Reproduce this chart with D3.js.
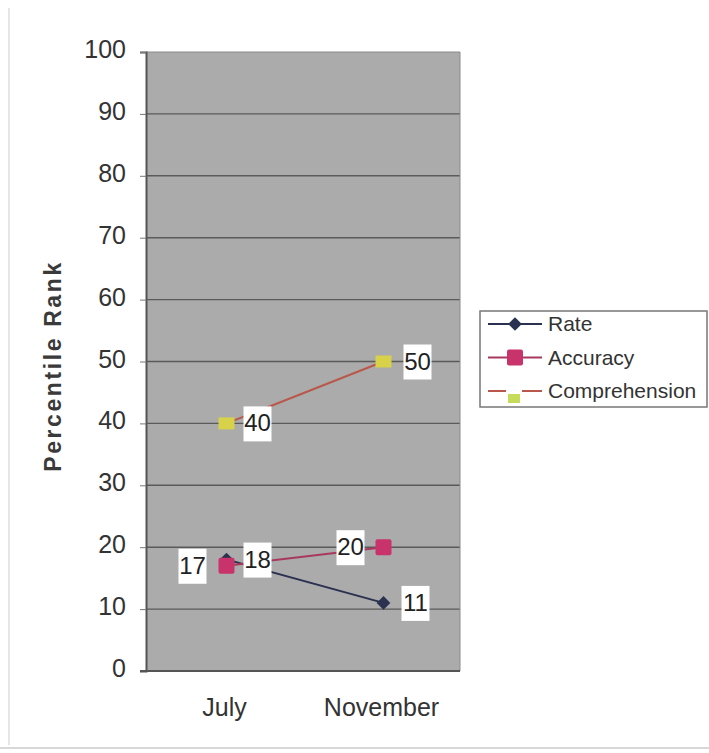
<!DOCTYPE html>
<html><head><meta charset="utf-8">
<script src="https://cdn.jsdelivr.net/npm/d3@7"></script>
<style>body{margin:0;background:#fff;} text{font-family:"Liberation Sans",Arial,sans-serif;}</style>
</head><body>
<svg id="c" width="709" height="753"></svg>
<script>
const categories = ["July", "November"];
const rate = [18, 11];
const accuracy = [17, 20];
const comprehension = [40, 50];
const yTicks = [0,10,20,30,40,50,60,70,80,90,100];
const seriesNames = ["Rate", "Accuracy", "Comprehension"];

const svg = d3.select("#c");
const L = 146, R = 460, T = 52, B = 671;
const x = d3.scaleBand().domain(categories).range([L, R]);
const y = d3.scaleLinear().domain([0,100]).range([B, T]);
const cx = c => x(c) + x.bandwidth()/2 + 2;

// outer frame remnants
svg.append("line").attr("x1",9).attr("x2",9).attr("y1",8).attr("y2",745).attr("stroke","#e6e6e6").attr("stroke-width",2);
svg.append("line").attr("x1",0).attr("x2",709).attr("y1",748).attr("y2",748).attr("stroke","#d8d8d8").attr("stroke-width",2);

// plot background
svg.append("rect").attr("x",L).attr("y",T).attr("width",R-L).attr("height",B-T).attr("fill","#ababab");

// gridlines
svg.append("g").selectAll("line").data(yTicks.filter(d=>d>0 && d<100)).join("line")
  .attr("x1",L).attr("x2",R).attr("y1",d=>y(d)).attr("y2",d=>y(d))
  .attr("stroke","#5a5a5a").attr("stroke-width",1.4);
svg.append("line").attr("x1",L).attr("x2",R).attr("y1",T).attr("y2",T).attr("stroke","#8a8a8a").attr("stroke-width",1);
svg.append("line").attr("x1",R).attr("x2",R).attr("y1",T).attr("y2",B).attr("stroke","#8a8a8a").attr("stroke-width",1);

// axes
const yAxis = d3.axisLeft(y).tickValues(yTicks).tickSize(6).tickPadding(14);
const gy = svg.append("g").attr("transform",`translate(${L},0)`).call(yAxis);
gy.select(".domain").attr("stroke","#555").attr("stroke-width",2);
gy.selectAll(".tick line").attr("stroke","#777");
gy.selectAll("text").attr("font-size",25).attr("fill","#333").attr("dy","0.22em").attr("font-family","Liberation Sans, Arial, sans-serif");

const xAxis = d3.axisBottom(x).tickSize(0).tickPadding(27);
const gx = svg.append("g").attr("transform",`translate(0,${B})`).call(xAxis);
gx.select(".domain").attr("stroke","#555").attr("stroke-width",2).attr("d",`M${L-6},0H${R}`);
gx.selectAll("text").attr("font-size",25).attr("fill","#333").attr("font-family","Liberation Sans, Arial, sans-serif");

// y label
svg.append("text").attr("transform","translate(61,366) rotate(-90)").attr("text-anchor","middle")
  .attr("font-size",23).attr("font-weight","bold").attr("fill","#3a3a3a").attr("letter-spacing",2.6)
  .text("Percentile Rank");

const series = [
  {name:seriesNames[0], values:rate, line:"#2b3150", marker:"diamond", mfill:"#2b3150"},
  {name:seriesNames[1], values:accuracy, line:"#a8385e", marker:"square", mfill:"#c8336b"},
  {name:seriesNames[2], values:comprehension, line:"#b9584a", marker:"tri", mfill:"#d8d24a"}
];
const lineGen = d3.line().x(d=>cx(d.c)).y(d=>y(d.v));

function drawMarker(g, type, px, py, fill){
  if(type==="diamond"){
    g.append("path").attr("d",d3.symbol(d3.symbolDiamond2, 120)()).attr("transform",`translate(${px},${py})`).attr("fill",fill);
  } else if(type==="square"){
    g.append("rect").attr("x",px-8).attr("y",py-8).attr("width",16).attr("height",16).attr("rx",2).attr("fill",fill);
  } else {
    g.append("rect").attr("x",px-8).attr("y",py-6).attr("width",16).attr("height",12).attr("fill",fill);
  }
}

const gl = svg.append("g");
series.forEach(s=>{
  const pts = categories.map((c,i)=>({c, v:s.values[i]}));
  gl.append("path").datum(pts).attr("d",lineGen).attr("fill","none").attr("stroke",s.line).attr("stroke-width",2);
});
[series[2], series[0], series[1]].forEach(s=>{
  categories.forEach((c,i)=>drawMarker(gl, s.marker, cx(c), y(s.values[i]), s.mfill));
});

// data labels: [series index, category index, dx]
const labelPos = [[1,0,-34],[0,0,31],[1,1,-33],[0,1,32],[2,0,31],[2,1,34]];
const glab = svg.append("g");
labelPos.forEach(([si,ci,dx])=>{
  const v = series[si].values[ci];
  const px = cx(categories[ci]) + dx, py = y(v);
  glab.append("rect").attr("x",px-14).attr("y",py-17).attr("width",28).attr("height",35).attr("fill","#fff");
  glab.append("text").attr("x",px).attr("y",py+8).attr("text-anchor","middle").attr("font-size",24).attr("fill","#222").text(v);
});

// legend
const lg = svg.append("g").attr("transform","translate(480,311)");
lg.append("rect").attr("x",0).attr("y",0).attr("width",227).attr("height",96).attr("fill","#fff").attr("stroke","#777").attr("stroke-width",1.5);
series.forEach((s,i)=>{
  const yy = 13 + i*33.5;
  lg.append("line").attr("x1",8).attr("x2",62).attr("y1",yy).attr("y2",yy).attr("stroke",s.line).attr("stroke-width",2);
  if(i===2){
    lg.append("rect").attr("x",28).attr("y",yy+3).attr("width",12).attr("height",9).attr("fill","#c4dc5a");
    lg.append("rect").attr("x",26).attr("y",yy-2).attr("width",16).attr("height",4).attr("fill","#fff");
  } else drawMarker(lg, s.marker, 35, yy, s.mfill);
  lg.append("text").attr("x",68).attr("y",yy+7).attr("font-size",21).attr("fill","#333").text(s.name);
});
</script>
</body></html>
